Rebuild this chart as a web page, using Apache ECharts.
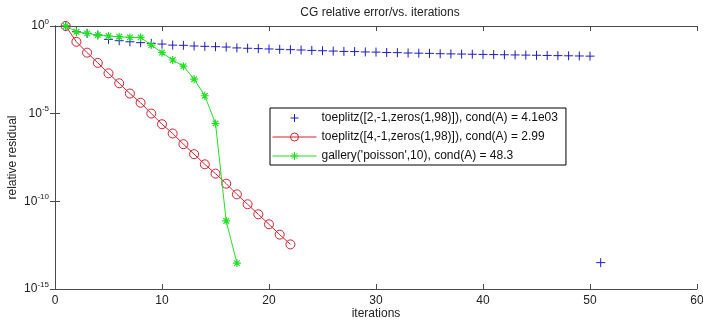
<!DOCTYPE html>
<html>
<head>
<meta charset="utf-8">
<script src="https://cdn.jsdelivr.net/npm/echarts@6/dist/echarts.min.js"></script>
<style>
  html, body { margin: 0; padding: 0; background: #fff; }
  #chart { width: 703px; height: 320px; }
</style>
</head>
<body>
<div id="chart"></div>
<script>
// relative residual per iteration (iteration = index + 1)
const toeplitz2 = [
  1, 0.479, 0.38, 0.309, 0.174, 0.145, 0.126, 0.112, 0.102, 0.0933,
  0.0813, 0.0794, 0.0724, 0.0692, 0.0661, 0.0631, 0.0562, 0.0537, 0.0513, 0.049,
  0.0468, 0.0447, 0.0427, 0.0407, 0.0389, 0.0372, 0.0355, 0.0347, 0.0331, 0.0324,
  0.0309, 0.0302, 0.0288, 0.0282, 0.0275, 0.0263, 0.0257, 0.0251, 0.0245, 0.024,
  0.0234, 0.0229, 0.0224, 0.0219, 0.0214, 0.0209, 0.0204, 0.02, 0.0195, 0.0191,
  3.2e-14
];
const toeplitz4 = [
  1, 0.126, 0.0302, 7.9e-3, 2.0e-3, 5.4e-4, 1.41e-4, 4.2e-5, 1.02e-5, 2.5e-6,
  7.4e-7, 1.82e-7, 4.9e-8, 1.29e-8, 3.8e-9, 1.02e-9, 2.5e-10, 6.8e-11, 1.82e-11, 4.9e-12,
  1.26e-12, 3.5e-13
];
const poisson = [
  1, 0.468, 0.38, 0.309, 0.269, 0.245, 0.224, 0.224, 0.0813, 0.0302,
  0.0115, 5.1e-3, 9.3e-4, 1.05e-4, 2.75e-6, 7.6e-12, 3.0e-14
];
const names = [
  "toeplitz([2,-1,zeros(1,98)]), cond(A) = 4.1e03",
  "toeplitz([4,-1,zeros(1,98)]), cond(A) = 2.99",
  "gallery('poisson',10), cond(A) = 48.3"
];

const toPairs = arr => arr.map((v, i) => [i + 1, v]);

const plusPath = 'path://M0,5L10,5M5,0L5,10';
const starPath = 'path://M0,5L10,5M5,0L5,10M1.5,1.5L8.5,8.5M8.5,1.5L1.5,8.5';

const font = 'Liberation Sans, Arial, sans-serif';
const axisCol = '#4a4a4a';
const txtCol = '#222';

let myChart = echarts.init(document.getElementById('chart'));
myChart.setOption({
  animation: false,
  backgroundColor: '#fff',
  title: {
    text: 'CG relative error/vs. iterations',
    left: 375,
    textAlign: 'center',
    top: 2,
    textStyle: { fontSize: 12, fontWeight: 'normal', color: txtCol, fontFamily: font }
  },
  grid: { left: 55, right: 6, top: 26, bottom: 31, outerBoundsMode: 'none', containLabel: false },
  legend: {
    orient: 'vertical',
    left: 270,
    top: 108,
    backgroundColor: '#fff',
    borderColor: '#000',
    borderWidth: 1,
    borderRadius: 0,
    padding: [4, 8, 3, 2],
    itemWidth: 44,
    itemHeight: 10,
    itemGap: 7,
    lineStyle: { width: 1 },
    itemStyle: { borderWidth: 1 },
    textStyle: { fontSize: 12, color: '#111', fontFamily: font }
  },
  xAxis: [{
    type: 'value',
    min: 0, max: 60, interval: 10,
    name: 'iterations',
    nameLocation: 'middle',
    nameGap: 19,
    nameMoveOverlap: false,
    nameTextStyle: { fontSize: 12, color: txtCol, fontFamily: font },
    axisLine: { lineStyle: { color: axisCol } },
    axisTick: { inside: true, length: 5, lineStyle: { color: axisCol } },
    axisLabel: { fontSize: 12, color: txtCol, fontFamily: font, margin: 6 },
    splitLine: { show: false }
  }, {
    type: 'value',
    position: 'top',
    min: 0, max: 60, interval: 10,
    axisLine: { show: true, onZero: false, lineStyle: { color: axisCol } },
    axisTick: { inside: true, length: 5, lineStyle: { color: axisCol } },
    axisLabel: { show: false },
    splitLine: { show: false }
  }],
  yAxis: [{
    type: 'log',
    logBase: 10,
    min: 1e-15, max: 1,
    interval: 5,
    name: 'relative residual',
    nameLocation: 'middle',
    nameGap: 36,
    nameMoveOverlap: false,
    nameTextStyle: { fontSize: 12, color: txtCol, fontFamily: font },
    axisLine: { show: true, lineStyle: { color: axisCol } },
    axisTick: { show: true, inside: true, length: 5, lineStyle: { color: axisCol } },
    axisLabel: {
      margin: 6,
      formatter: v => '{b|10}{s|' + Math.round(Math.log10(v)) + '}',
      rich: {
        b: { fontSize: 12, color: txtCol, fontFamily: font },
        s: { fontSize: 8, color: txtCol, fontFamily: font, verticalAlign: 'top', padding: [0, 0, 9, 0] }
      }
    },
    splitLine: { show: false }
  }, {
    type: 'log',
    logBase: 10,
    position: 'right',
    min: 1e-15, max: 1,
    interval: 5,
    axisLine: { show: true, lineStyle: { color: axisCol } },
    axisTick: { show: true, inside: true, length: 5, lineStyle: { color: axisCol } },
    axisLabel: { show: false },
    splitLine: { show: false }
  }],
  series: [
    {
      name: names[0],
      type: 'line',
      data: toPairs(toeplitz2),
      symbol: plusPath,
      symbolSize: 9,
      showAllSymbol: true,
      lineStyle: { width: 0, opacity: 0 },
      itemStyle: { color: 'transparent', borderColor: '#1c1cc8', borderWidth: 1 },
      z: 3
    },
    {
      name: names[1],
      type: 'line',
      data: toPairs(toeplitz4),
      symbol: 'circle',
      symbolSize: 9,
      showAllSymbol: true,
      lineStyle: { width: 1, color: '#d8202e' },
      itemStyle: { color: 'transparent', borderColor: '#d8202e', borderWidth: 1 },
      z: 2
    },
    {
      name: names[2],
      type: 'line',
      data: toPairs(poisson),
      symbol: starPath,
      symbolSize: 8,
      showAllSymbol: true,
      lineStyle: { width: 1, color: '#22e022' },
      itemStyle: { color: 'transparent', borderColor: '#22e022', borderWidth: 1.2 },
      z: 4
    }
  ]
});
</script>
</body>
</html>
